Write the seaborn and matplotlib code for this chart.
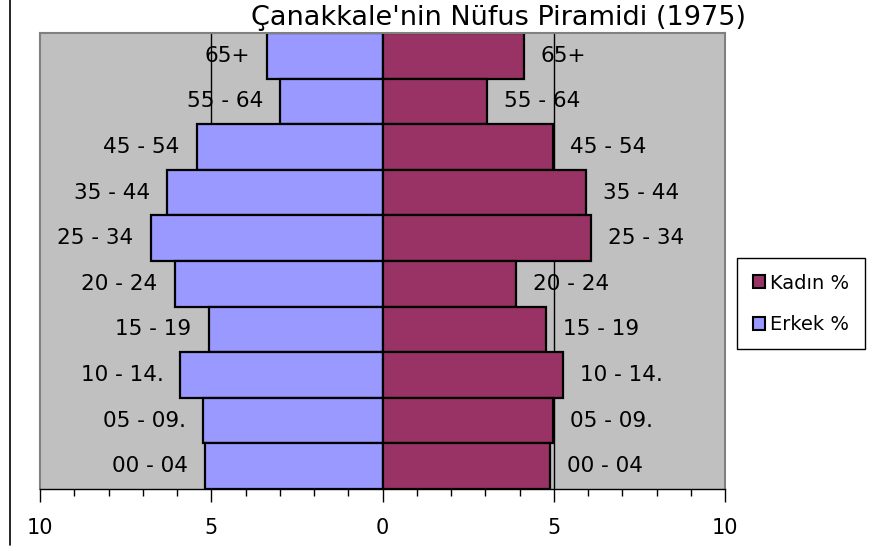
import pandas as pd
import seaborn as sns
import matplotlib.pyplot as plt
from matplotlib.lines import Line2D
from matplotlib.patches import Patch
from matplotlib.ticker import MultipleLocator, FuncFormatter

# age groups, top of the pyramid first
age_groups = ["65+", "55 - 64", "45 - 54", "35 - 44", "25 - 34",
              "20 - 24", "15 - 19", "10 - 14.", "05 - 09.", "00 - 04"]
erkek = [3.36, 2.98, 5.43, 6.28, 6.77, 6.07, 5.08, 5.90, 5.23, 5.17]
kadin = [4.12, 3.04, 4.99, 5.93, 6.10, 3.91, 4.76, 5.26, 4.99, 4.88]
title = "Çanakkale'nin Nüfus Piramidi (1975)"

blue = "#9999FF"
maroon = "#993366"

sns.set_style("white")
plt.rcParams["font.family"] = ["DejaVu Sans"]
plt.rcParams["text.color"] = "black"
plt.rcParams["xtick.color"] = "black"

df = pd.DataFrame({"age": age_groups, "erkek": [-v for v in erkek], "kadin": kadin})

fig = plt.figure(figsize=(8.81, 5.51), dpi=100)
ax = fig.add_axes([40 / 881, 1 - 489 / 551, 685 / 881, 456 / 551])
ax.set_facecolor("#C0C0C0")

# gridlines at +-5 behind the bars
for gx in (-5, 5):
    ax.axvline(gx, color="black", linewidth=1, zorder=0.5)

sns.barplot(data=df, x="erkek", y="age", order=age_groups, orient="h", color=blue,
            saturation=1, width=1.0, edgecolor="black", linewidth=1.6, ax=ax, zorder=2)
sns.barplot(data=df, x="kadin", y="age", order=age_groups, orient="h", color=maroon,
            saturation=1, width=1.0, edgecolor="black", linewidth=1.6, ax=ax, zorder=2)

# category labels beside each bar tip
for i, name in enumerate(age_groups):
    ax.annotate(name, (-erkek[i], i), xytext=(-17, 0), textcoords="offset pixels",
                ha="right", va="center", fontsize=15.5, color="black", zorder=3)
    ax.annotate(name, (kadin[i], i), xytext=(17, 0), textcoords="offset pixels",
                ha="left", va="center", fontsize=15.5, color="black", zorder=3)

ax.set_xlim(-10, 10)
ax.set_ylim(len(age_groups) - 0.5, -0.5)
ax.set_xlabel("")
ax.set_ylabel("")
ax.set_yticks([])
ax.xaxis.set_major_locator(MultipleLocator(5))
ax.xaxis.set_minor_locator(MultipleLocator(1))
ax.xaxis.set_major_formatter(FuncFormatter(lambda v, p: f"{abs(v):g}"))
ax.tick_params(axis="x", which="major", direction="out", length=9, width=1,
               color="black", labelcolor="black", labelsize=15, pad=12, bottom=True)
ax.tick_params(axis="x", which="minor", direction="out", length=5, width=1,
               color="black", bottom=True)
for side in ("top", "left", "right"):
    ax.spines[side].set_color("#808080")
    ax.spines[side].set_linewidth(1.5)
ax.spines["bottom"].set_color("black")
ax.spines["bottom"].set_linewidth(1)

fig.text(499 / 881, 1 - 18 / 551, title, ha="center", va="center", fontsize=19.5,
         color="black")

handles = [Patch(facecolor=maroon, edgecolor="black", linewidth=1.5),
           Patch(facecolor=blue, edgecolor="black", linewidth=1.5)]
leg = fig.legend(handles, ["Kadın %", "Erkek %"], loc="upper left",
                 bbox_to_anchor=(737 / 881, 1 - 258 / 551), fontsize=14,
                 frameon=True, fancybox=False, edgecolor="black", framealpha=1,
                 handlelength=0.65, handleheight=0.65, handletextpad=0.25,
                 labelspacing=1.15, borderpad=0.8, borderaxespad=0)
leg.get_frame().set_linewidth(1)

# left border of the chart area
fig.add_artist(Line2D([10 / 881, 10 / 881], [1 - 545 / 551, 1], color="black",
                      linewidth=1.2, transform=fig.transFigure))

fig.savefig("out.png", dpi=100)
